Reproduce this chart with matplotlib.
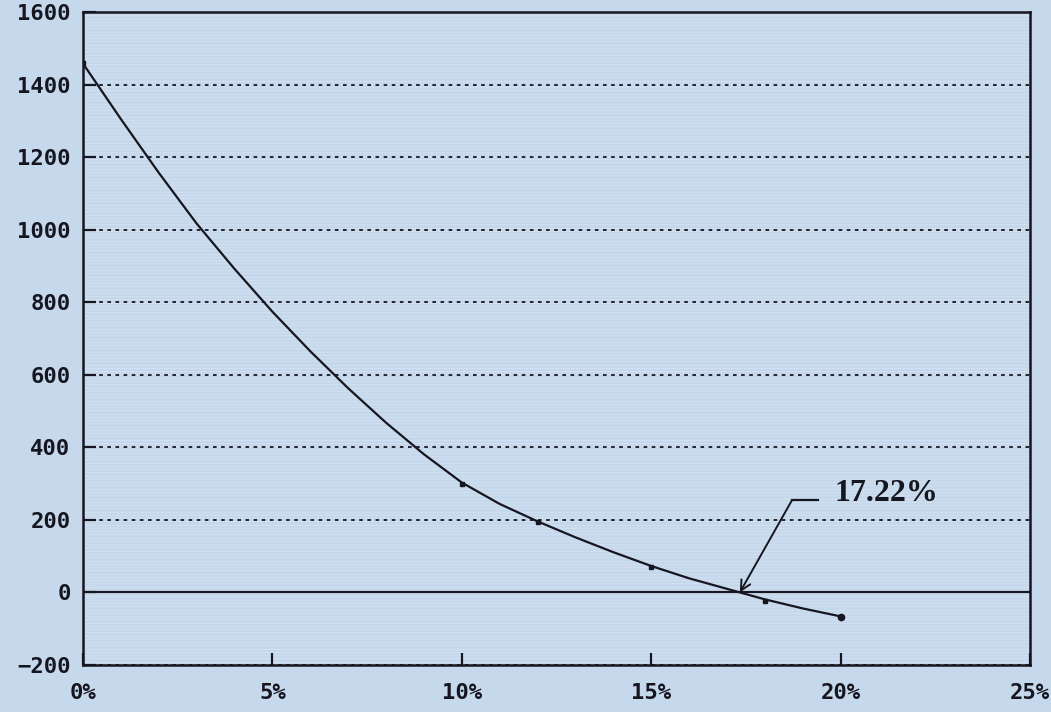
import numpy as np
import matplotlib.pyplot as plt
from matplotlib.ticker import FuncFormatter

# NPV curve (discount rate in %, NPV)
curve_rate = [0, 1, 2, 3, 4, 5, 6, 7, 8, 9, 10,
              11, 12, 13, 14, 15, 16, 17, 18, 19, 20]
curve_npv = [1458, 1305, 1157, 1017, 892, 774, 665, 563, 468, 381, 303,
             244, 196, 152, 111, 73, 39, 10, -19, -44, -66]

# plotted data points
point_rate = [0, 10, 12, 15, 18]
point_npv = [1460, 300, 195, 70, -24]
end_rate = [20]
end_npv = [-67]

irr_label = '17.22%'
# where the drawn curve meets the zero line (arrow tip)
irr_mark = 17.34

bg = '#c6d9ec'
ink = '#15161f'

fig = plt.figure(figsize=(10.51, 7.12), dpi=100, facecolor=bg)
ax = fig.add_axes([0.079, 0.066, 0.901, 0.917])
ax.set_facecolor(bg)

# faint scan-line texture
for y in np.arange(-200, 1600, 9):
    ax.axhline(y, color='white', lw=0.8, alpha=0.18, zorder=0)

ax.plot(curve_rate, curve_npv, color=ink, lw=1.6, zorder=3)
ax.plot(point_rate, point_npv, 's', color=ink, ms=3.5, zorder=4)
ax.plot(end_rate, end_npv, 'o', color=ink, ms=4.5, zorder=4)

ax.axhline(0, color=ink, lw=1.6, zorder=2)

ax.set_xlim(0, 25)
ax.set_ylim(-200, 1600)
ax.set_xticks(np.arange(0, 26, 5))
ax.set_yticks(np.arange(-200, 1601, 200))
ax.xaxis.set_major_formatter(FuncFormatter(lambda v, p: f'{v:.0f}%'))

ax.yaxis.grid(True, color=ink, linestyle=(0, (2, 2.5)), lw=1.3)
ax.set_axisbelow(True)

for s in ax.spines.values():
    s.set_color(ink)
    s.set_linewidth(1.8)

ax.tick_params(axis='both', direction='in', color=ink, width=1.6, length=9,
               labelsize=16, labelcolor=ink)
ax.tick_params(axis='x', pad=13)
ax.tick_params(axis='y', pad=9)
for lab in ax.get_xticklabels() + ax.get_yticklabels():
    lab.set_fontfamily('DejaVu Sans Mono')
    lab.set_fontweight('bold')

# leader line with arrow to the zero crossing
ax.annotate('', xy=(irr_mark, 0), xytext=(18.72, 255),
            arrowprops=dict(arrowstyle='->', color=ink, lw=1.4,
                            mutation_scale=18, shrinkA=0, shrinkB=0))
ax.plot([18.72, 19.4], [255, 255], color=ink, lw=1.6)
ax.text(19.85, 272, irr_label, fontsize=23, fontfamily='Liberation Serif',
        fontweight='bold', color=ink, va='center', ha='left')

fig.savefig('out.png', dpi=100, facecolor=bg)
